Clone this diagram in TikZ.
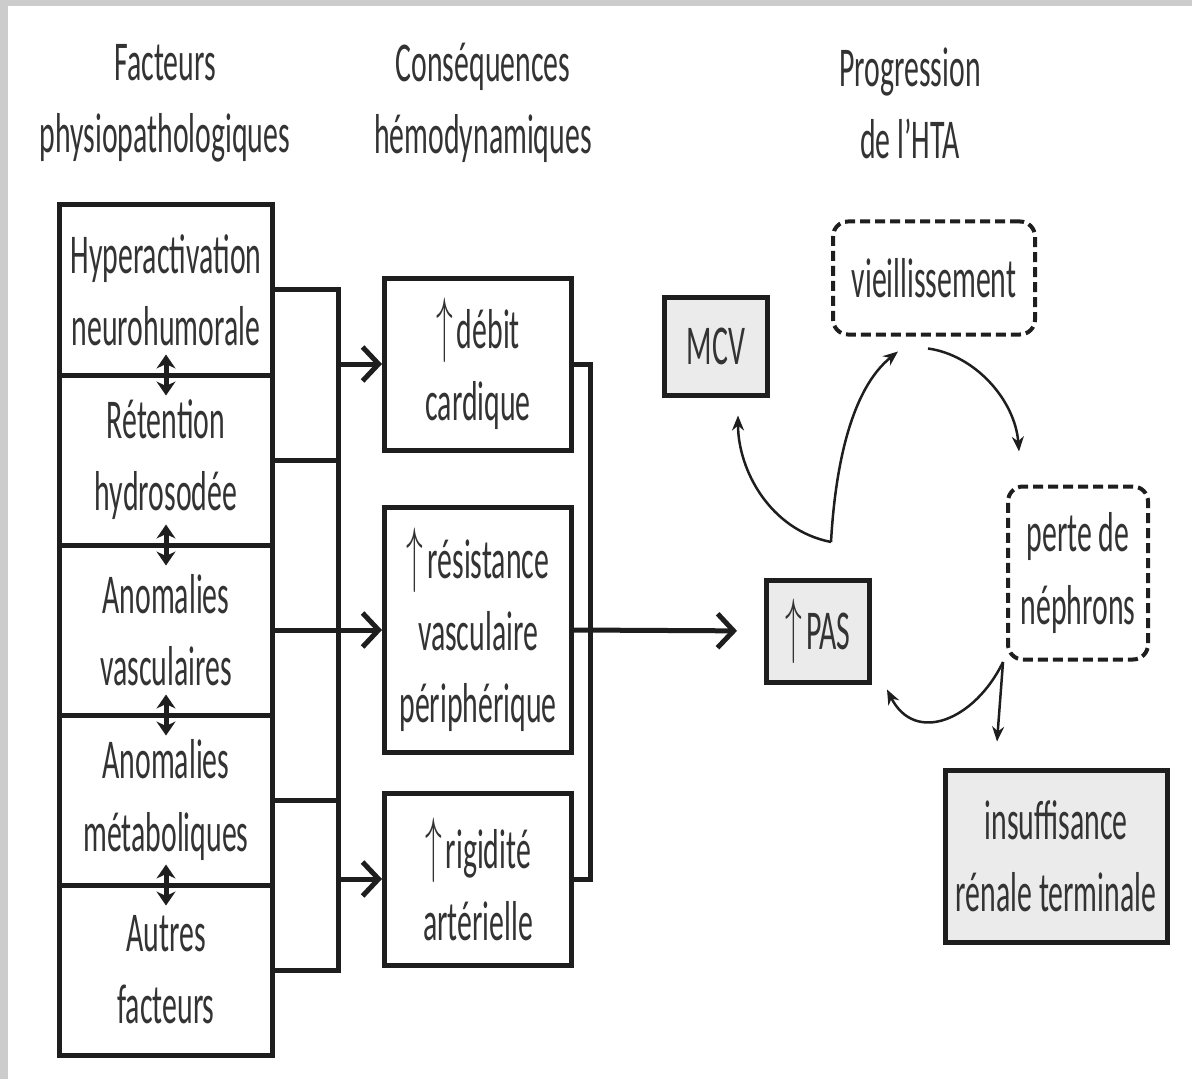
\documentclass[tikz,border=0pt]{standalone}
\usepackage{fontspec}
\setmainfont[FakeStretch=0.53]{Carlito}
\usetikzlibrary{arrows.meta}

\definecolor{encre}{HTML}{1E1E1E}
\definecolor{texte}{HTML}{333333}
\definecolor{gris}{HTML}{EBEBEB}
\newcommand{\hausse}{\scalebox{0.55}[1.2]{$\uparrow$}\kern0.4mm}

\begin{document}
\begin{tikzpicture}[x=0.1mm, y=-0.1mm,
  font=\fontsize{16}{20.5}\selectfont, text=texte,
  boite/.style={draw=encre, line width=0.5mm, align=center, inner sep=0pt, fill=white},
  facteur/.style={boite, minimum width=21.3mm, minimum height=17mm},
  consequence/.style={boite, minimum width=18.7mm},
  grise/.style={boite, fill=gris},
  tiret/.style={boite, line width=0.4mm, rounded corners=1.5mm, dash pattern=on 1mm off 0.5mm},
  lien/.style={encre, line width=0.5mm},
  fleche/.style={lien, -{Straight Barb[length=1.6mm, width=3.4mm]}},
  lienduo/.style={lien, {Stealth[length=1.4mm, width=1.9mm]}-{Stealth[length=1.4mm, width=1.9mm]}},
  courbe/.style={encre, line width=0.25mm, -{Stealth[length=1.5mm, width=1.2mm]}}]
\useasboundingbox (0,0) rectangle (1192,1079);
\fill[gray!40] (0,0) rectangle (1192,6);
\fill[gray!40] (0,0) rectangle (8,1079);

% titres des colonnes
\node[align=center] (titrefact) at (165,103) {Facteurs\\physiopathologiques};
\node[align=center] (titrecons) at (483,103) {Conséquences\\hémodynamiques};
\node[align=center] (titreprog) at (910,103) {Progression\\de l’HTA};

% facteurs
\node[facteur] (hyper) at (166,290) {Hyperactivation\\neurohumorale};
\node[facteur] (retention) at (166,460) {Rétention\\hydrosodée};
\node[facteur] (vasc) at (166,630) {Anomalies\\vasculaires};
\node[facteur] (metab) at (166,800) {Anomalies\\métaboliques};
\node[facteur] (autres) at (166,970) {Autres\\facteurs};

\foreach \haut/\bas in {hyper/retention, retention/vasc, vasc/metab, metab/autres}
  \draw[lienduo] ([yshift=2.3mm]\haut.south) -- ([yshift=-2.3mm]\bas.north);

% consequences
\node[consequence, minimum height=17.2mm] (debit) at (478,364) {\hausse débit\\cardique};
\node[consequence, minimum height=24.5mm] (resist) at (478,630) {\hausse résistance\\vasculaire\\périphérique};
\node[consequence, minimum height=17.2mm] (rigid) at (478,879) {\hausse rigidité\\artérielle};

\coordinate (busg) at (338,630);
\coordinate (busd) at (590,630);
\draw[lien] (hyper.east) -| (busg) |- (autres.east);
\draw[lien] (retention.east) -- (retention.east -| busg);
\draw[lien] (metab.east) -- (metab.east -| busg);
\draw[fleche] (busg |- debit.west) -- (debit.west);
\draw[fleche] (vasc.east) -- (resist.west);
\draw[fleche] (busg |- rigid.west) -- (rigid.west);
\draw[lien] (debit.east) -| (busd) |- (rigid.east);

% progression
\node[grise, minimum width=10.3mm, minimum height=9.8mm] (mcv) at (716,346) {MCV};
\node[grise, minimum width=10.3mm, minimum height=10.2mm] (pas) at (818,631) {\hausse PAS};
\node[tiret, minimum width=20.2mm, minimum height=11.3mm] (vieil) at (934,278) {vieillissement};
\node[tiret, minimum width=14mm, minimum height=17.3mm] (perte) at (1078,573) {perte de\\néphrons};
\node[grise, minimum width=22.2mm, minimum height=17.2mm] (irt) at (1056,856) {insuffisance\\rénale terminale};

\draw[fleche, shorten >=2.7mm] (resist.east) -- (pas.west);

\coordinate (depart) at (831,542);
\coordinate (fourche) at (1003,662);
\draw[courbe] (depart) .. controls (770,530) and (738,470) .. ([xshift=2.2mm, yshift=-1.8mm]mcv.south);
\draw[courbe] (depart) .. controls (835,470) and (850,390) .. ([xshift=-3.6mm, yshift=-1.5mm]vieil.south);
\draw[courbe] ([xshift=-0.6mm, yshift=-1.2mm]vieil.south) .. controls (975,355) and (1015,400) .. ([xshift=-5.9mm, yshift=3.3mm]perte.north);
\draw[courbe] (fourche) .. controls (975,720) and (915,745) .. ([xshift=1.5mm, yshift=-0.5mm]pas.south east);
\draw[courbe] (fourche) -- ([xshift=-5.9mm, yshift=2.6mm]irt.north);
\end{tikzpicture}
\end{document}
